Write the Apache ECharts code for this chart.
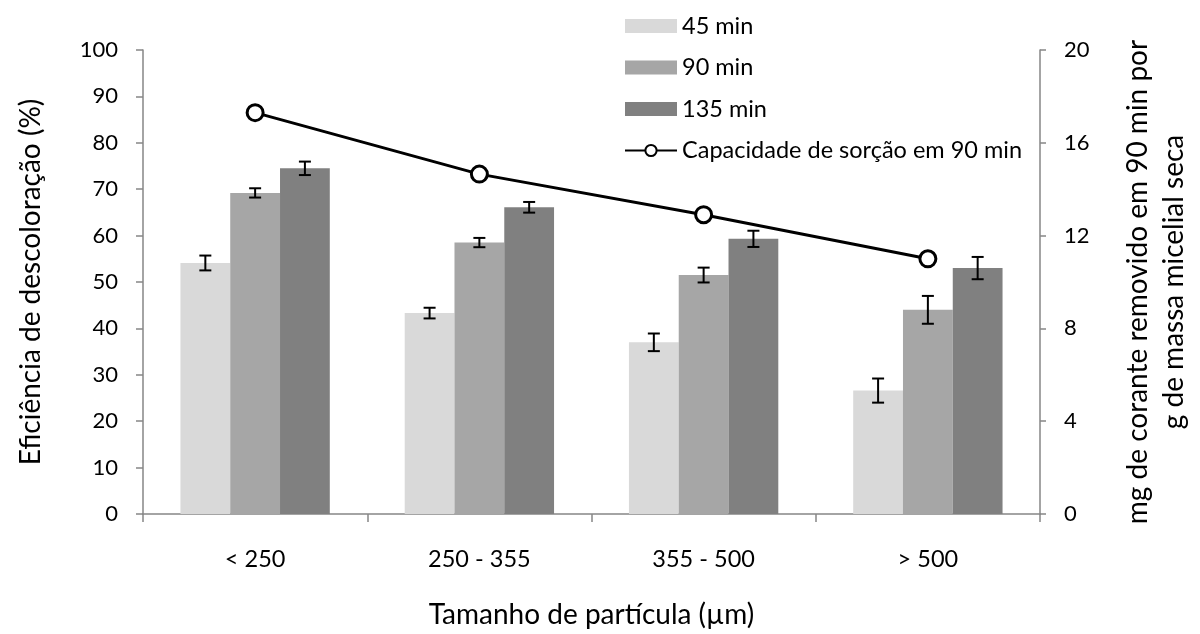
<!DOCTYPE html>
<html>
<head>
<meta charset="utf-8">
<script src="https://cdn.jsdelivr.net/npm/echarts@6/dist/echarts.min.js"></script>
<style>
  html, body { margin: 0; padding: 0; background: #ffffff; }
  #chart { width: 1200px; height: 634px; }
</style>
</head>
<body>
<div id="chart"></div>
<script>
// Particle size classes (µm)
const categories = ['< 250', '250 - 355', '355 - 500', '> 500'];

// Decolorization efficiency (%) by contact time
const eff45 = [54.1, 43.3, 37.0, 26.6];
const eff90 = [69.2, 58.5, 51.5, 44.0];
const eff135 = [74.5, 66.1, 59.3, 53.0];

// Standard deviations (%)
const sd45 = [1.6, 1.15, 1.9, 2.6];
const sd90 = [1.0, 1.0, 1.6, 3.0];
const sd135 = [1.45, 1.15, 1.75, 2.4];

// Sorption capacity at 90 min (mg dye / g dry mycelial mass)
const capacity90 = [17.3, 14.65, 12.9, 11.0];

// Axis ticks
const leftTicks = { min: 0, max: 100, interval: 10 };
const rightTicks = { min: 0, max: 20, interval: 4 };

const FONT = 'Lato';
const AXIS_GRAY = '#868686';
const GAP = 0.334;
const TITLE_SIZE = 28;

// Error bar drawn at the centre of bar slot `slot` (0,1,2) of each group
function errorSeries(values, sds, slot) {
  return {
    type: 'custom',
    yAxisIndex: 0,
    z: 5,
    silent: true,
    data: values.map((v, i) => [i, v - sds[i], v + sds[i]]),
    renderItem: function (params, api) {
      const idx = api.value(0);
      const lo = api.coord([idx, api.value(1)]);
      const hi = api.coord([idx, api.value(2)]);
      const catW = api.size([1, 0])[0];
      const barW = catW * (1 - GAP) / 3;
      const x = lo[0] + (slot - 1) * barW;
      const cap = 6;
      const style = { stroke: '#000000', lineWidth: 2 };
      return {
        type: 'group',
        children: [
          { type: 'line', shape: { x1: x, y1: lo[1], x2: x, y2: hi[1] }, style: style },
          { type: 'line', shape: { x1: x - cap, y1: lo[1], x2: x + cap, y2: lo[1] }, style: style },
          { type: 'line', shape: { x1: x - cap, y1: hi[1], x2: x + cap, y2: hi[1] }, style: style }
        ]
      };
    }
  };
}

const chart = echarts.init(document.getElementById('chart'), null, { renderer: 'canvas' });

chart.setOption({
  animation: false,
  backgroundColor: '#ffffff',
  textStyle: { fontFamily: FONT },
  grid: { left: 143, right: 140, top: 50, bottom: 117, containLabel: false },
  legend: {
    orient: 'vertical',
    left: 619,
    top: 9,
    itemWidth: 52,
    itemHeight: 14,
    itemGap: 17.5,
    textStyle: { fontFamily: FONT, fontSize: 23.5, color: '#000000', lineHeight: 23 },
    data: [
      { name: '45 min', icon: 'rect' },
      { name: '90 min', icon: 'rect' },
      { name: '135 min', icon: 'rect' },
      { name: 'Capacidade de sorção em 90 min' }
    ]
  },
  xAxis: {
    type: 'category',
    data: categories,
    axisLine: { lineStyle: { color: AXIS_GRAY, width: 1.5 } },
    axisTick: { show: true, alignWithLabel: false, length: 8, lineStyle: { color: AXIS_GRAY, width: 1.5 } },
    axisLabel: { fontFamily: FONT, fontSize: 23.5, color: '#000000', margin: 33 },
    name: 'Tamanho de partícula (µm)',
    nameLocation: 'middle',
    nameGap: 87,
    nameTextStyle: { fontFamily: FONT, fontSize: TITLE_SIZE, color: '#000000' }
  },
  yAxis: [
    {
      type: 'value',
      position: 'left',
      min: leftTicks.min,
      max: leftTicks.max,
      interval: leftTicks.interval,
      splitLine: { show: false },
      axisLine: { show: true, lineStyle: { color: AXIS_GRAY, width: 1.5 } },
      axisTick: { show: true, length: 7, lineStyle: { color: AXIS_GRAY, width: 1.5 } },
      axisLabel: { fontFamily: FONT, fontSize: 22, color: '#000000', margin: 25 },
      name: 'Eficiência de descoloração (%)',
      nameLocation: 'middle',
      nameRotate: 90,
      nameGap: 98,
      nameTextStyle: { fontFamily: FONT, fontSize: TITLE_SIZE, color: '#000000' }
    },
    {
      type: 'value',
      position: 'right',
      min: rightTicks.min,
      max: rightTicks.max,
      interval: rightTicks.interval,
      splitLine: { show: false },
      axisLine: { show: true, lineStyle: { color: AXIS_GRAY, width: 1.5 } },
      axisTick: { show: true, length: 6, lineStyle: { color: AXIS_GRAY, width: 1.5 } },
      axisLabel: { fontFamily: FONT, fontSize: 22, color: '#000000', margin: 24 },
      name: 'mg de corante removido em 90 min por\ng de massa micelial seca',
      nameLocation: 'middle',
      nameRotate: 90,
      nameGap: 80,
      nameTextStyle: { fontFamily: FONT, fontSize: TITLE_SIZE, color: '#000000', lineHeight: 36, align: 'center' }
    }
  ],
  series: [
    {
      name: '45 min', type: 'bar', yAxisIndex: 0, data: eff45,
      barGap: '0%', barCategoryGap: (GAP * 100) + '%',
      itemStyle: { color: '#d9d9d9' }
    },
    {
      name: '90 min', type: 'bar', yAxisIndex: 0, data: eff90,
      barGap: '0%', barCategoryGap: (GAP * 100) + '%',
      itemStyle: { color: '#a6a6a6' }
    },
    {
      name: '135 min', type: 'bar', yAxisIndex: 0, data: eff135,
      barGap: '0%', barCategoryGap: (GAP * 100) + '%',
      itemStyle: { color: '#808080' }
    },
    errorSeries(eff45, sd45, 0),
    errorSeries(eff90, sd90, 1),
    errorSeries(eff135, sd135, 2),
    {
      name: 'Capacidade de sorção em 90 min',
      type: 'line',
      yAxisIndex: 1,
      data: capacity90,
      z: 10,
      symbol: 'circle',
      symbolSize: 16,
      lineStyle: { color: '#000000', width: 3 },
      itemStyle: { color: '#ffffff', borderColor: '#000000', borderWidth: 3 }
    }
  ]
});
</script>
</body>
</html>
